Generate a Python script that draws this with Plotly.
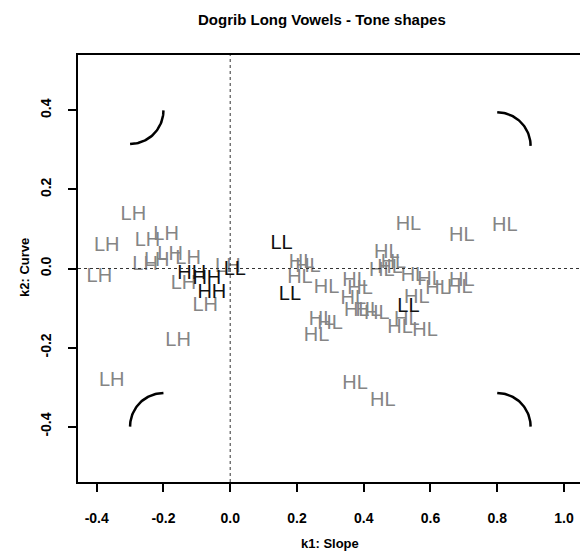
import numpy as np
import plotly.graph_objects as go

# ---- data ----
lh_x = [-0.290, -0.370, -0.392, -0.355, -0.156, -0.075, -0.248, -0.192,
        -0.255, -0.220, -0.180, -0.126, -0.140, -0.007]
lh_y = [0.136, 0.056, -0.021, -0.285, -0.184, -0.095, 0.069, 0.086,
        0.010, 0.018, 0.035, 0.023, -0.040, 0.003]

hh_x = [-0.115, -0.070, -0.055]
hh_y = [-0.015, -0.026, -0.061]

ll_x = [0.014, 0.154, 0.179, 0.534]
ll_y = [-0.003, 0.061, -0.066, -0.097]

hl_x = [0.534, 0.694, 0.823, 0.469, 0.489, 0.214, 0.233, 0.209, 0.289, 0.374,
        0.389, 0.369, 0.379, 0.414, 0.439, 0.454, 0.479, 0.549, 0.599, 0.623,
        0.694, 0.688, 0.559, 0.274, 0.299, 0.259, 0.509, 0.529, 0.584, 0.374,
        0.457]
hl_y = [0.111, 0.082, 0.107, 0.040, 0.014, 0.014, 0.003, -0.023, -0.049, -0.032,
        -0.053, -0.078, -0.108, -0.108, -0.116, -0.007, 0.002, -0.019, -0.028, -0.053,
        -0.032, -0.049, -0.074, -0.129, -0.141, -0.171, -0.150, -0.129, -0.158, -0.293,
        -0.335]

# corner tone-shape arcs: centre, start/end angle (deg)
arc_cx = [-0.30, -0.20, 0.80, 0.80]
arc_cy = [0.40, -0.40, -0.40, 0.31]
arc_a0 = [-90, 90, 90, 90]
arc_a1 = [0, 180, 0, 0]
arc_rx = 0.10
arc_ry = 0.085

x_ticks = [-0.4, -0.2, 0.0, 0.2, 0.4, 0.6, 0.8, 1.0]
y_ticks = [-0.4, -0.2, 0.0, 0.2, 0.4]

FONT = "Liberation Sans, Arial, Helvetica, sans-serif"
GRAY = "#858585"

fig = go.Figure()

def add_labels(xs, ys, label, color):
    fig.add_trace(go.Scatter(
        x=xs, y=ys, mode="text", text=[label] * len(xs),
        textposition="middle center",
        textfont=dict(family=FONT, size=20, color=color),
        hoverinfo="skip", showlegend=False))

add_labels(lh_x, lh_y, "LH", GRAY)
add_labels(hl_x, hl_y, "HL", GRAY)
add_labels(hh_x, hh_y, "HH", "#111111")
add_labels(ll_x, ll_y, "LL", "#111111")

for cx, cy, a0, a1 in zip(arc_cx, arc_cy, arc_a0, arc_a1):
    t = np.radians(np.linspace(a0, a1, 40))
    fig.add_trace(go.Scatter(
        x=cx + arc_rx * np.cos(t), y=cy + arc_ry * np.sin(t),
        mode="lines", line=dict(color="black", width=2.5),
        hoverinfo="skip", showlegend=False))

# dotted reference lines at 0
fig.add_shape(type="line", xref="x", yref="paper", x0=0, x1=0, y0=0, y1=1,
              line=dict(color="#333333", width=1, dash="dot"))
fig.add_shape(type="line", xref="paper", yref="y", x0=0, x1=1, y0=0, y1=0,
              line=dict(color="#333333", width=1, dash="dot"))

fig.update_layout(
    width=580, height=552,
    margin=dict(l=78, r=0, t=55, b=70, autoexpand=False),
    paper_bgcolor="white", plot_bgcolor="white",
    font=dict(family=FONT, color="black"),
    xaxis=dict(range=[-0.456, 1.048], tickvals=x_ticks,
               ticktext=[f"<b>{v:.1f}</b>" for v in x_ticks],
               showgrid=False, zeroline=False, showline=True, mirror=True,
               linecolor="black", linewidth=1.8,
               ticks="outside", ticklen=8, tickwidth=1.5, tickcolor="black",
               tickfont=dict(family=FONT, size=14, color="black"),
               ticklabelstandoff=14),
    yaxis=dict(range=[-0.54, 0.54], tickvals=y_ticks,
               ticktext=[f"<b>{v:.1f}</b>" for v in y_ticks],
               showgrid=False, zeroline=False, showline=True, mirror=False,
               linecolor="black", linewidth=1.8,
               ticks="outside", ticklen=8, tickwidth=1.5, tickcolor="black",
               tickangle=-90,
               tickfont=dict(family=FONT, size=14, color="black"),
               ticklabelstandoff=12),
    annotations=[
        dict(text="<b>Dogrib Long Vowels - Tone shapes</b>", xref="paper", yref="paper",
             x=(322 - 78) / 502, y=1 + (55 - 20) / 427, xanchor="center", yanchor="middle",
             showarrow=False, font=dict(family=FONT, size=15, color="black")),
        dict(text="<b>k1: Slope</b>", xref="paper", yref="paper",
             x=(330 - 78) / 502, y=-(543 - 482) / 427, xanchor="center", yanchor="middle",
             showarrow=False, font=dict(family=FONT, size=13, color="black")),
        dict(text="<b>k2: Curve</b>", xref="paper", yref="paper", textangle=-90,
             x=-(78 - 24) / 502, y=(482 - 268) / 427, xanchor="center", yanchor="middle",
             showarrow=False, font=dict(family=FONT, size=13, color="black")),
    ],
)

fig.write_html("out.html")
